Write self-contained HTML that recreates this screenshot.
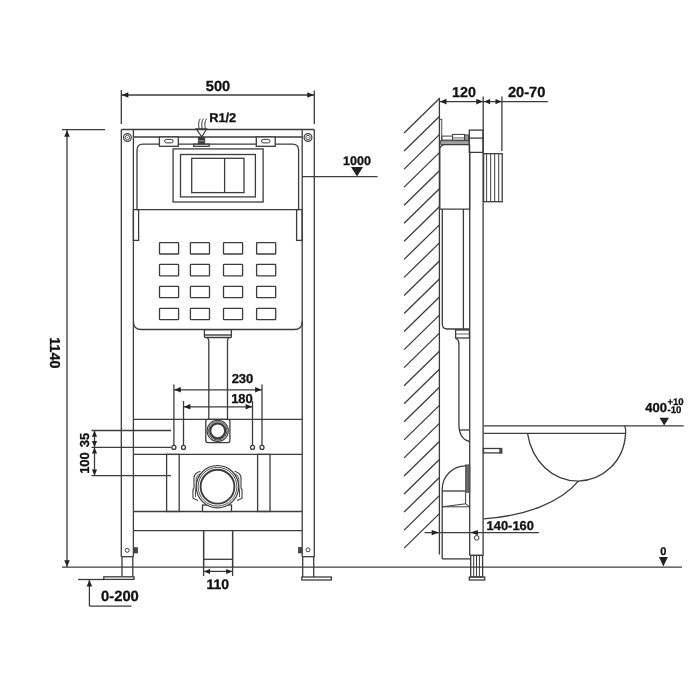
<!DOCTYPE html>
<html><head><meta charset="utf-8"><style>
html,body{margin:0;padding:0;background:#fff;width:700px;height:700px;overflow:hidden}
svg{display:block;will-change:transform}
text{font-family:"Liberation Sans",sans-serif;font-weight:bold;fill:#111;stroke:#111;stroke-width:0.3;text-rendering:geometricPrecision}
</style></head><body>
<svg width="700" height="700" viewBox="0 0 700 700">
<rect width="700" height="700" fill="#fff"/>
<g stroke="#3c3c3c" stroke-width="1.3" fill="none" stroke-linecap="butt">
<line x1="121.3" y1="90" x2="121.3" y2="124"/>
<line x1="314.3" y1="90.4" x2="314.3" y2="124"/>
<line x1="121.3" y1="95" x2="314.3" y2="95"/>
<polygon points="121.8,95 128.3,92.2 128.3,97.8" fill="#222" stroke="none"/>
<polygon points="313.8,95 307.3,92.2 307.3,97.8" fill="#222" stroke="none"/>
<line x1="62" y1="129.7" x2="105" y2="129.7"/>
<line x1="67" y1="130" x2="67" y2="567"/>
<polygon points="67,130.2 64.2,136.7 69.8,136.7" fill="#222" stroke="none"/>
<polygon points="67,566.8 64.2,560.3 69.8,560.3" fill="#222" stroke="none"/>
<line x1="62" y1="567.2" x2="682" y2="567.2"/>
<line x1="78" y1="579.5" x2="104" y2="579.5"/>
<line x1="89.4" y1="580" x2="89.4" y2="606.2"/>
<polygon points="89.4,580 86.6,586.5 92.2,586.5" fill="#222" stroke="none"/>
<line x1="89.4" y1="606.2" x2="131.5" y2="606.2"/>
<line x1="203.6" y1="531" x2="203.6" y2="576"/>
<line x1="232.6" y1="531" x2="232.6" y2="576"/>
<line x1="203.6" y1="571.4" x2="232.6" y2="571.4"/>
<polygon points="204,571.4 210,568.9 210,573.9" fill="#222" stroke="none"/>
<polygon points="232.2,571.4 226.2,568.9 226.2,573.9" fill="#222" stroke="none"/>
<line x1="91.5" y1="430.5" x2="171" y2="430.5"/>
<line x1="91.5" y1="447.3" x2="171" y2="447.3"/>
<line x1="91.5" y1="475.7" x2="171" y2="475.7"/>
<line x1="94.5" y1="430.5" x2="94.5" y2="475.7"/>
<polygon points="94.5,430.8 91.9,436.8 97.1,436.8" fill="#222" stroke="none"/>
<polygon points="94.5,447.0 91.9,441.0 97.1,441.0" fill="#222" stroke="none"/>
<polygon points="94.5,447.6 91.9,453.6 97.1,453.6" fill="#222" stroke="none"/>
<polygon points="94.5,475.4 91.9,469.4 97.1,469.4" fill="#222" stroke="none"/>
<line x1="173.9" y1="384.5" x2="173.9" y2="445.4"/>
<line x1="262" y1="384.5" x2="262" y2="445.4"/>
<line x1="173.9" y1="389.8" x2="262" y2="389.8"/>
<polygon points="174.3,389.8 180.8,387.0 180.8,392.6" fill="#222" stroke="none"/>
<polygon points="261.6,389.8 255.1,387.0 255.1,392.6" fill="#222" stroke="none"/>
<line x1="183.5" y1="401" x2="183.5" y2="445.4"/>
<line x1="252.5" y1="401" x2="252.5" y2="445.4"/>
<line x1="183.5" y1="406.8" x2="252.5" y2="406.8"/>
<polygon points="183.9,406.8 190.4,404.0 190.4,409.6" fill="#222" stroke="none"/>
<polygon points="252.1,406.8 245.6,404.0 245.6,409.6" fill="#222" stroke="none"/>
<circle cx="173.9" cy="447.4" r="2" fill="none"/>
<circle cx="183.5" cy="447.4" r="2" fill="none"/>
<circle cx="252.5" cy="447.4" r="2" fill="none"/>
<circle cx="262" cy="447.4" r="2" fill="none"/>
<line x1="302.4" y1="176.6" x2="377.6" y2="176.6"/>
<polygon points="351,167 363,167 357,176.4" fill="#222" stroke="none"/>
<line x1="121.3" y1="129.5" x2="121.3" y2="556.7"/>
<line x1="133.4" y1="129.5" x2="133.4" y2="556.7"/>
<line x1="302.2" y1="129.5" x2="302.2" y2="556.7"/>
<line x1="314.3" y1="129.5" x2="314.3" y2="556.7"/>
<line x1="121.3" y1="129.5" x2="314.3" y2="129.5"/>
<line x1="133.4" y1="137" x2="302.2" y2="137"/>
<line x1="121.3" y1="556.7" x2="133.4" y2="556.7"/>
<line x1="302.2" y1="556.7" x2="314.3" y2="556.7"/>
<line x1="122" y1="556.7" x2="122" y2="576.8"/>
<line x1="132.8" y1="556.7" x2="132.8" y2="576.8"/>
<rect x="103.8" y="576.8" width="30.2" height="2.6" fill="none"/>
<line x1="302.7" y1="556.7" x2="302.7" y2="577"/>
<line x1="313.7" y1="556.7" x2="313.7" y2="577"/>
<rect x="301.8" y="577" width="29.5" height="3" fill="none"/>
<circle cx="127.4" cy="137.5" r="3.9" stroke-width="1.2" fill="none"/>
<circle cx="127.4" cy="137.5" r="2.2" stroke-width="0.9" fill="none"/>
<circle cx="127.4" cy="137.5" r="0.6" stroke-width="0" fill="#555"/>
<circle cx="308" cy="137.5" r="3.9" stroke-width="1.2" fill="none"/>
<circle cx="308" cy="137.5" r="2.2" stroke-width="0.9" fill="none"/>
<circle cx="308" cy="137.5" r="0.6" stroke-width="0" fill="#555"/>
<path d="M137,209.6 V150.2 Q137,144.2 143,144.2 H292.6 Q298.6,144.2 298.6,150.2 V209.6 Z" fill="none"/>
<rect x="159.4" y="137" width="18.9" height="9.3" fill="#fff"/>
<rect x="164.6" y="139.4" width="8.5" height="3.5" rx="1.75" fill="none" stroke-width="1"/>
<rect x="256.3" y="137" width="18.9" height="9.3" fill="#fff"/>
<rect x="261.5" y="139.4" width="8.5" height="3.5" rx="1.75" fill="none" stroke-width="1"/>
<rect x="193.7" y="144.2" width="15.4" height="2.1" fill="#fff"/>
<rect x="198.3" y="137.4" width="6.5" height="6.0" stroke-width="0.8" fill="#333"/>
<rect x="198.8" y="139.8" width="5.5" height="2" fill="#777" stroke="none"/>
<path d="M196.1,128.9 H206.7 L201.8,136.9 Z" stroke-width="1.1" fill="none"/>
<path d="M199.10000000000002,128.6 C198.3,124.5 198.5,121 200.3,118.6" stroke-width="1.0" fill="none"/>
<path d="M202.20000000000002,128.6 C201.4,124.5 201.6,121 203.4,118.6" stroke-width="1.0" fill="none"/>
<path d="M205.3,128.6 C204.5,124.5 204.7,121 206.5,118.6" stroke-width="1.0" fill="none"/>
<rect x="173.1" y="148.9" width="90.0" height="53.1" fill="none"/>
<rect x="180.5" y="154.5" width="74.9" height="42.4" fill="none"/>
<rect x="191.7" y="158.3" width="52.3" height="34.3" fill="none"/>
<line x1="224.6" y1="158.3" x2="224.6" y2="192.6"/>
<rect x="133.4" y="209.6" width="5.2" height="30.8" fill="none"/>
<rect x="296.6" y="209.6" width="5.6" height="30.8" fill="none"/>
<path d="M133.4,321.4 Q133.4,329.5 141.5,329.5 H294.1 Q302.2,329.5 302.2,321.4" fill="none"/>
<rect x="159.5" y="242.6" width="19.1" height="11.4" rx="0.6" fill="none"/>
<rect x="159.5" y="264.4" width="19.1" height="11.4" rx="0.6" fill="none"/>
<rect x="159.5" y="286.3" width="19.1" height="11.4" rx="0.6" fill="none"/>
<rect x="159.5" y="308.3" width="19.1" height="11.4" rx="0.6" fill="none"/>
<rect x="190.4" y="242.6" width="19.1" height="11.4" rx="0.6" fill="none"/>
<rect x="190.4" y="264.4" width="19.1" height="11.4" rx="0.6" fill="none"/>
<rect x="190.4" y="286.3" width="19.1" height="11.4" rx="0.6" fill="none"/>
<rect x="190.4" y="308.3" width="19.1" height="11.4" rx="0.6" fill="none"/>
<rect x="223.5" y="242.6" width="19.1" height="11.4" rx="0.6" fill="none"/>
<rect x="223.5" y="264.4" width="19.1" height="11.4" rx="0.6" fill="none"/>
<rect x="223.5" y="286.3" width="19.1" height="11.4" rx="0.6" fill="none"/>
<rect x="223.5" y="308.3" width="19.1" height="11.4" rx="0.6" fill="none"/>
<rect x="256.6" y="242.6" width="19.1" height="11.4" rx="0.6" fill="none"/>
<rect x="256.6" y="264.4" width="19.1" height="11.4" rx="0.6" fill="none"/>
<rect x="256.6" y="286.3" width="19.1" height="11.4" rx="0.6" fill="none"/>
<rect x="256.6" y="308.3" width="19.1" height="11.4" rx="0.6" fill="none"/>
<rect x="204.4" y="329.6" width="27.0" height="7.9" rx="1" fill="none"/>
<line x1="204.4" y1="335" x2="231.4" y2="335" stroke-width="1.4"/>
<path d="M206.8,337.5 Q208.8,338.3 208.8,341 V419.3 M229.4,337.5 Q227.5,338.3 227.5,341 V419.3" fill="none"/>
<line x1="133.4" y1="419.3" x2="302.2" y2="419.3"/>
<line x1="133.4" y1="454.4" x2="302.2" y2="454.4"/>
<line x1="133.4" y1="511.5" x2="302.2" y2="511.5"/>
<line x1="133.4" y1="530.7" x2="302.2" y2="530.7"/>
<rect x="205.8" y="419.3" width="24.1" height="23.3" rx="2" fill="none"/>
<circle cx="217.7" cy="430.8" r="10.6" stroke-width="1.1" fill="none"/>
<circle cx="217.7" cy="430.8" r="9.2" stroke-width="0.9" fill="none"/>
<circle cx="217.7" cy="430.8" r="7.5" stroke-width="2.2" fill="none"/>
<rect x="166.6" y="454.4" width="12.6" height="57.1" fill="none"/>
<rect x="257.6" y="454.4" width="12.4" height="57.1" fill="none"/>
<rect x="202.5" y="505" width="29.0" height="6.5" fill="#fff"/>
<path d="M200.5,471.2 C196.0,472.5 194.0,474.5 194.0,478 V488 L193.0,489.5 V498.2 L197.8,500.5" stroke-width="1.1" fill="none"/>
<path d="M200.0,474 C197.5,475 196.2,476.5 196.2,479.5 V488 L195.5,489.5 V497" stroke-width="0.9" fill="none"/>
<path d="M234.5,471.2 C239.0,472.5 241.0,474.5 241.0,478 V488 L242.0,489.5 V498.2 L237.2,500.5" stroke-width="1.1" fill="none"/>
<path d="M235.0,474 C237.5,475 238.8,476.5 238.8,479.5 V488 L239.5,489.5 V497" stroke-width="0.9" fill="none"/>
<circle cx="217.5" cy="486.7" r="21.2" stroke-width="1.2" fill="#fff"/>
<circle cx="217.5" cy="486.7" r="19.4" stroke-width="0.9" fill="none"/>
<circle cx="217.5" cy="486.7" r="16.9" stroke-width="1.9" fill="none"/>
<line x1="203.6" y1="530.7" x2="203.6" y2="567.2"/>
<line x1="232.6" y1="530.7" x2="232.6" y2="567.2"/>
<line x1="203.6" y1="559.3" x2="232.6" y2="559.3"/>
<circle cx="127.2" cy="550.3" r="2" stroke-width="1" fill="none"/>
<circle cx="308" cy="549.8" r="2" stroke-width="1" fill="none"/>
<rect x="133.9" y="547.7" width="3.8" height="5.3" stroke-width="0.6" fill="#444"/>
<rect x="298.4" y="547.4" width="3.4" height="5.6" stroke-width="0.6" fill="#444"/>
<line x1="439.4" y1="97.7" x2="439.4" y2="554.5"/>
<line x1="439.4" y1="98.5" x2="404.1" y2="133.0"/>
<line x1="439.4" y1="116.55" x2="404.1" y2="151.05"/>
<line x1="439.4" y1="134.6" x2="404.1" y2="169.1"/>
<line x1="439.4" y1="152.65" x2="404.1" y2="187.15"/>
<line x1="439.4" y1="170.7" x2="404.1" y2="205.2"/>
<line x1="439.4" y1="188.75" x2="404.1" y2="223.25"/>
<line x1="439.4" y1="206.8" x2="404.1" y2="241.3"/>
<line x1="439.4" y1="224.85000000000002" x2="404.1" y2="259.35"/>
<line x1="439.4" y1="242.9" x2="404.1" y2="277.4"/>
<line x1="439.4" y1="260.95000000000005" x2="404.1" y2="295.45000000000005"/>
<line x1="439.4" y1="279.0" x2="404.1" y2="313.5"/>
<line x1="439.4" y1="297.05" x2="404.1" y2="331.55"/>
<line x1="439.4" y1="315.1" x2="404.1" y2="349.6"/>
<line x1="439.4" y1="333.15" x2="404.1" y2="367.65"/>
<line x1="439.4" y1="351.20000000000005" x2="404.1" y2="385.70000000000005"/>
<line x1="439.4" y1="369.25" x2="404.1" y2="403.75"/>
<line x1="439.4" y1="387.3" x2="404.1" y2="421.8"/>
<line x1="439.4" y1="405.35" x2="404.1" y2="439.85"/>
<line x1="439.4" y1="423.40000000000003" x2="404.1" y2="457.90000000000003"/>
<line x1="439.4" y1="441.45" x2="404.1" y2="475.95"/>
<line x1="439.4" y1="459.5" x2="404.1" y2="494.0"/>
<line x1="439.4" y1="477.55" x2="404.1" y2="512.05"/>
<line x1="439.4" y1="495.6" x2="404.1" y2="530.1"/>
<line x1="439.4" y1="513.6500000000001" x2="404.1" y2="548.1500000000001"/>
<line x1="483.2" y1="96.4" x2="483.2" y2="152.4"/>
<line x1="501.9" y1="96.4" x2="501.9" y2="151"/>
<line x1="439.6" y1="101.6" x2="547.8" y2="101.6"/>
<polygon points="440,101.6 446.5,98.8 446.5,104.4" fill="#222" stroke="none"/>
<polygon points="482.8,101.6 476.3,98.8 476.3,104.4" fill="#222" stroke="none"/>
<polygon points="484.1,101.6 490.1,99.0 490.1,104.2" fill="#222" stroke="none"/>
<polygon points="501.5,101.6 495.5,99.0 495.5,104.2" fill="#222" stroke="none"/>
<rect x="439.6" y="119.3" width="2.2" height="22.0" stroke-width="0.9" fill="none"/>
<rect x="441.8" y="136.1" width="27.3" height="4.0" stroke-width="1.0" fill="none"/>
<rect x="452.6" y="134.4" width="12.0" height="5.7" stroke-width="1.0" fill="#fff"/>
<line x1="452.6" y1="137.9" x2="464.6" y2="137.9" stroke-width="0.8"/>
<rect x="464.9" y="134.9" width="3.7" height="5.4" stroke-width="0.8" fill="#999"/>
<rect x="440.6" y="140.7" width="28.5" height="3.7" stroke-width="0.8" fill="#a0a0a0"/>
<rect x="469.3" y="130.1" width="13.7" height="22.3" fill="none"/>
<line x1="469.3" y1="138.1" x2="483" y2="138.1"/>
<path d="M439.8,209.1 V148.5 Q440.5,145 445.4,144.7 H469.6 V209.1 Z" fill="none"/>
<line x1="469.7" y1="152.4" x2="469.7" y2="555.4"/>
<line x1="483.1" y1="152.4" x2="483.1" y2="555.4"/>
<line x1="469.7" y1="555.4" x2="483.1" y2="555.4"/>
<rect x="483.6" y="153.7" width="18.6" height="48.0" fill="none"/>
<line x1="486.6" y1="153.7" x2="486.6" y2="201.7" stroke-width="1"/>
<line x1="490.7" y1="153.7" x2="490.7" y2="201.7" stroke-width="1"/>
<line x1="494.7" y1="153.7" x2="494.7" y2="201.7" stroke-width="1"/>
<line x1="498.7" y1="153.7" x2="498.7" y2="201.7" stroke-width="1"/>
<path d="M442.3,209.1 V324 Q442.3,329 447.3,329 H469.4" fill="none"/>
<line x1="463.4" y1="209.1" x2="463.4" y2="329"/>
<rect x="455.6" y="330" width="13.8" height="8" fill="none"/>
<line x1="455.6" y1="334" x2="469.4" y2="334" stroke-width="0.8"/>
<path d="M455.7,338.3 Q458.9,340 458.9,343 V424 Q458.9,439 469.5,441.5" fill="none"/>
<line x1="460" y1="430" x2="469.4" y2="430"/>
<line x1="483.5" y1="425.8" x2="683.7" y2="425.8"/>
<line x1="483.5" y1="433.4" x2="625.6" y2="433.4"/>
<path d="M624,425.8 Q626,427 625.6,433.4" fill="none"/>
<path d="M527.5,433.4 C532,462 553,481 578.4,481.2 C603,480 624,462 625.6,433.4" fill="none"/>
<path d="M578.4,481.2 C560,503 525,516 483.5,518.9" fill="none"/>
<rect x="483.5" y="448.5" width="18.0" height="4.4" fill="#fff"/>
<rect x="499.6" y="448.3" width="2.4" height="4.8" stroke-width="0.6" fill="#555"/>
<polygon points="659.5,417.7 669,417.7 664.2,425.6" fill="#222" stroke="none"/>
<path d="M442.2,558.9 V489.3 A23.4,23.4 0 0 1 465.6,465.9" fill="none"/>
<rect x="465.6" y="464.9" width="4.3" height="27.4" stroke-width="0.7" fill="#666"/>
<line x1="442.2" y1="491" x2="465.6" y2="491"/>
<path d="M465.6,492.3 V503.8 L469.9,506.8 M442.2,506.8 L465.6,503.8 M442.2,506.8 H470" stroke-width="1" fill="none"/>
<line x1="442.2" y1="558.9" x2="470.6" y2="558.9"/>
<rect x="470.7" y="555.4" width="11.9" height="21.6" fill="none"/>
<line x1="473.7" y1="555.4" x2="473.7" y2="577" stroke-width="1"/>
<line x1="476.5" y1="555.4" x2="476.5" y2="577" stroke-width="1"/>
<line x1="479.4" y1="555.4" x2="479.4" y2="577" stroke-width="1"/>
<rect x="469.3" y="577" width="15.4" height="3" fill="none"/>
<circle cx="476.7" cy="537.8" r="2.3" stroke-width="1" fill="none"/>
<line x1="424.6" y1="532.6" x2="538.9" y2="532.6"/>
<polygon points="439.2,532.6 431.7,530.0 431.7,535.2" fill="#222" stroke="none"/>
<polygon points="470.4,532.6 477.9,530.0 477.9,535.2" fill="#222" stroke="none"/>
<polygon points="659,556.9 667.9,556.9 663.3,566.4" fill="#222" stroke="none"/>
</g>
<g>
<text x="218" y="91.2" font-size="14.6" text-anchor="middle">500</text>
<text x="54.6" y="352.8" font-size="14.4" text-anchor="middle" transform="rotate(90 54.6 352.8)" dy="5.1">1140</text>
<text x="101" y="601.2" font-size="14.8" text-anchor="start">0-200</text>
<text x="217.7" y="588.6" font-size="14" text-anchor="middle">110</text>
<text x="88.6" y="440" font-size="13" text-anchor="middle" transform="rotate(-90 88.6 440)">35</text>
<text x="88.6" y="463" font-size="13" text-anchor="middle" transform="rotate(-90 88.6 463)">100</text>
<text x="242.5" y="383.2" font-size="13" text-anchor="middle">230</text>
<text x="242" y="402.6" font-size="13" text-anchor="middle">180</text>
<text x="357" y="164.6" font-size="12.5" text-anchor="middle">1000</text>
<text x="209.2" y="121.6" font-size="12.8" text-anchor="start">R1/2</text>
<text x="464" y="97" font-size="14.3" text-anchor="middle">120</text>
<text x="526.6" y="96.8" font-size="14.6" text-anchor="middle">20-70</text>
<text x="645.2" y="411.6" font-size="13" text-anchor="start">400</text>
<text x="667.4" y="404.8" font-size="9.6" text-anchor="start">+10</text>
<text x="667.6" y="413.4" font-size="9.6" text-anchor="start">-10</text>
<text x="486.6" y="530.2" font-size="12.9" text-anchor="start">140-160</text>
<text x="663.3" y="554.8" font-size="11" text-anchor="middle">0</text>
</g>
</svg>
</body></html>
